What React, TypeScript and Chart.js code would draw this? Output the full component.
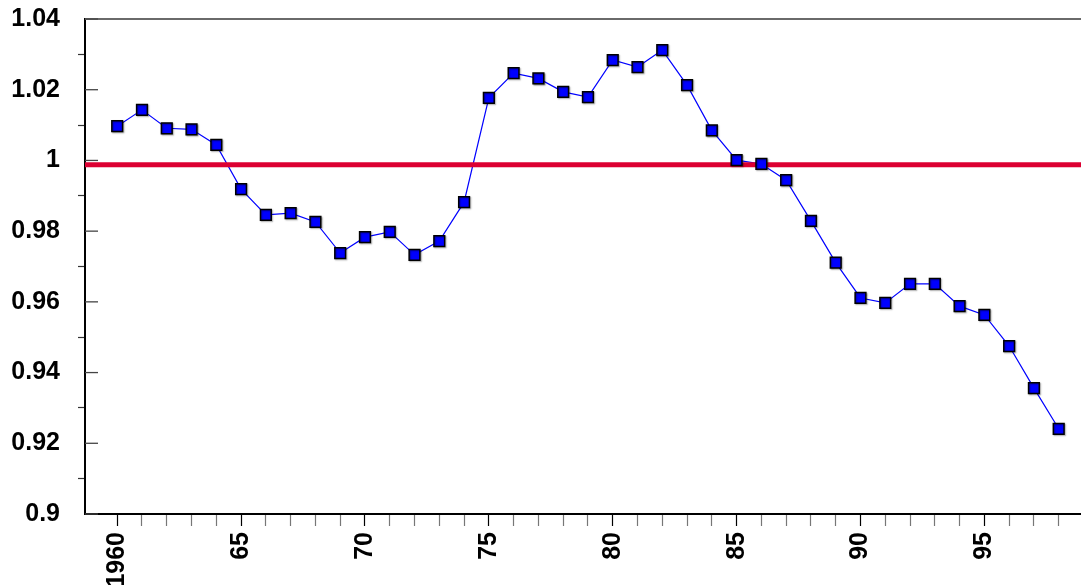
import { useEffect, useRef } from 'react';
import { Chart, registerables } from 'chart.js';

Chart.register(...registerables);

const years = [
  1960, 1961, 1962, 1963, 1964, 1965, 1966, 1967, 1968, 1969,
  1970, 1971, 1972, 1973, 1974, 1975, 1976, 1977, 1978, 1979,
  1980, 1981, 1982, 1983, 1984, 1985, 1986, 1987, 1988, 1989,
  1990, 1991, 1992, 1993, 1994, 1995, 1996, 1997, 1998,
];
const ratios = [
  1.0097, 1.0143, 1.0091, 1.0088, 1.0044, 0.9919, 0.9846, 0.9851, 0.9826, 0.9738,
  0.9783, 0.9798, 0.9733, 0.9772, 0.9882, 1.0177, 1.0247, 1.0232, 1.0194, 1.0179,
  1.0284, 1.0264, 1.0312, 1.0213, 1.0085, 1.0001, 0.9990, 0.9944, 0.9829, 0.9711,
  0.9611, 0.9597, 0.9651, 0.9651, 0.9588, 0.9563, 0.9475, 0.9356, 0.9241,
];
const referenceLevel = 0.9988;
const xRange = [1958.7, 1998.9];
const yRange = [0.9, 1.04];
const xLabelYears = [1960, 1965, 1970, 1975, 1980, 1985, 1990, 1995];
const xTickLabels = ['1960', '65', '70', '75', '80', '85', '90', '95'];

export default function App() {
  const ref = useRef<HTMLCanvasElement>(null);

  useEffect(() => {
    if (!ref.current) return;
    const font = { family: '"Liberation Sans", Arial, sans-serif', size: 25, weight: 'bold' as const };
    const points = years.map((x, i) => ({ x, y: ratios[i] }));
    const firstYear = years[0];
    const lastYear = years[years.length - 1];

    const framePlugin = {
      id: 'frame',
      beforeDatasetDraw(chart: any, args: any) {
        if (args.index === 0) {
          const c = chart.ctx;
          c.save();
          c.shadowColor = 'rgba(0,0,0,0.35)';
          c.shadowOffsetX = 1;
          c.shadowOffsetY = 1;
          c.shadowBlur = 1.5;
        }
      },
      afterDatasetDraw(chart: any, args: any) {
        if (args.index === 0) chart.ctx.restore();
      },
      afterDraw(chart: any) {
        const { ctx, chartArea } = chart;
        const y = chart.scales.y;
        ctx.save();
        ctx.strokeStyle = '#6a6a6a';
        ctx.lineWidth = 2;
        ctx.beginPath();
        ctx.moveTo(chartArea.left, chartArea.top);
        ctx.lineTo(chartArea.right, chartArea.top);
        ctx.stroke();
        ctx.strokeStyle = '#444';
        ctx.lineWidth = 1.3;
        y.ticks.forEach((t: any) => {
          const k = Math.round(t.value * 100);
          if (k % 2 === 0) {
            const py = y.getPixelForValue(t.value);
            ctx.beginPath();
            ctx.moveTo(chartArea.left, py);
            ctx.lineTo(chartArea.left + 13, py);
            ctx.stroke();
          }
        });
        ctx.restore();
      },
    };

    const zeroPad = (s: any) => {
      s.paddingLeft = 0;
      s.paddingRight = 0;
      s.paddingTop = 0;
      s.paddingBottom = 0;
    };

    const chart = new Chart(ref.current, {
      type: 'line',
      data: {
        datasets: [
          {
            data: points,
            showLine: false,
            pointStyle: 'rect',
            pointRadius: 7.6,
            pointBackgroundColor: '#0000FF',
            pointBorderColor: '#000000',
            pointBorderWidth: 1.5,
          },
          {
            data: [
              { x: xRange[0], y: referenceLevel },
              { x: xRange[1], y: referenceLevel },
            ],
            borderColor: 'rgb(220,0,50)',
            borderWidth: 5,
            pointRadius: 0,
          },
          {
            data: points,
            borderColor: '#0000FF',
            borderWidth: 1.2,
            pointRadius: 0,
            tension: 0,
          },
        ],
      },
      options: {
        responsive: false,
        animation: false,
        events: [],
        layout: { autoPadding: false, padding: { top: 19, left: 0, right: 0, bottom: 0 } },
        plugins: { legend: { display: false }, tooltip: { enabled: false } },
        scales: {
          x: {
            type: 'linear',
            min: xRange[0],
            max: xRange[1],
            afterFit: (s: any) => { s.height = 71; zeroPad(s); },
            border: { color: '#000', width: 2 },
            grid: {
              drawOnChartArea: false,
              tickLength: 12,
              tickWidth: 1.2,
              tickColor: (c: any) => {
                if (!c.tick) return 'rgba(0,0,0,0)';
                const v = Math.round(c.tick.value);
                if (v < firstYear || v > lastYear) return 'rgba(0,0,0,0)';
                return v % 5 === 0 ? '#000' : '#777';
              },
            },
            ticks: {
              stepSize: 1,
              autoSkip: false,
              includeBounds: false,
              maxRotation: 90,
              minRotation: 90,
              padding: 6,
              color: '#000',
              font,
              callback: (v: any) => {
                const i = xLabelYears.indexOf(Math.round(Number(v)));
                return i >= 0 ? xTickLabels[i] : '';
              },
            },
          },
          y: {
            type: 'linear',
            min: yRange[0],
            max: yRange[1],
            afterFit: (s: any) => { s.width = 85; zeroPad(s); },
            border: { color: '#000', width: 2 },
            grid: {
              drawOnChartArea: false,
              tickLength: 7,
              tickWidth: 1.2,
              tickColor: (c: any) => (c.tick && Math.round(c.tick.value * 100) % 2 === 0 ? 'rgba(0,0,0,0)' : '#333'),
            },
            ticks: {
              stepSize: 0.01,
              autoSkip: false,
              includeBounds: false,
              padding: 18,
              color: '#000',
              font,
              callback: (v: any) => {
                const k = Math.round(Number(v) * 100);
                return k % 2 === 0 ? String(parseFloat((k / 100).toFixed(2))) : '';
              },
            },
          },
        },
      },
      plugins: [framePlugin],
    } as any);
    return () => chart.destroy();
  }, []);

  return (
    <canvas
      ref={ref}
      width={1081}
      height={585}
      style={{ position: 'fixed', left: 0, top: 0, display: 'block', width: 1081, height: 585 }}
    />
  );
}
